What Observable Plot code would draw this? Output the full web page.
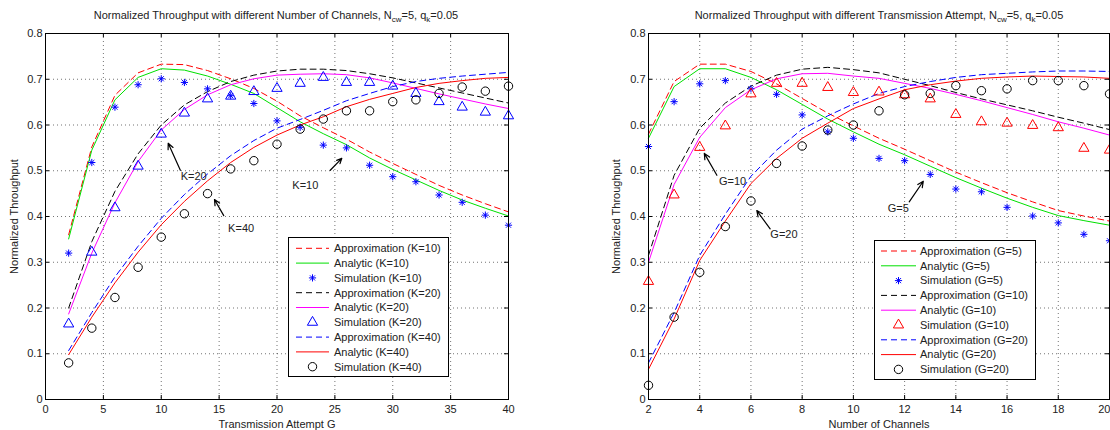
<!DOCTYPE html>
<html><head><meta charset="utf-8">
<script src="https://cdn.jsdelivr.net/npm/d3@7"></script>
<script src="https://cdn.jsdelivr.net/npm/@observablehq/plot@0.6"></script>
<style>
body{margin:0;background:#fff;font-family:"Liberation Sans",Arial,Helvetica,sans-serif;}
#wrap{position:relative;width:1110px;height:430px;overflow:hidden;background:#fff;}
.panel{position:absolute;top:0;}
.title{position:absolute;top:9px;font-size:11px;white-space:nowrap;transform:translateX(-50%);color:#222;line-height:13px;}
.title sub{font-size:8px;vertical-align:-3px;line-height:0;}
.legend{position:absolute;}
</style></head><body><div id="wrap"></div>
<script>
// ---------- DATA ----------
const yTicks = [0, 0.1, 0.2, 0.3, 0.4, 0.5, 0.6, 0.7, 0.8];
const leftXTicks = [0, 5, 10, 15, 20, 25, 30, 35, 40];
const rightXTicks = [2, 4, 6, 8, 10, 12, 14, 16, 18, 20];

// Left chart: x = Transmission Attempt G
const leftG = [2,4,6,8,10,12,14,16,18,20,22,24,26,28,30,32,34,36,38,40];
const appK10 = [0.360,0.552,0.665,0.714,0.733,0.732,0.719,0.701,0.680,0.652,0.620,0.594,0.569,0.541,0.516,0.492,0.468,0.447,0.428,0.410];
const anaK10 = [0.351,0.545,0.655,0.704,0.723,0.720,0.707,0.689,0.669,0.638,0.607,0.581,0.557,0.528,0.503,0.480,0.457,0.436,0.418,0.401];
const simK10 = [0.320,0.518,0.639,0.688,0.701,0.693,0.679,0.664,0.647,0.609,0.595,0.556,0.550,0.512,0.487,0.476,0.447,0.431,0.403,0.381];
const appK20 = [0.200,0.345,0.455,0.537,0.600,0.644,0.673,0.695,0.709,0.718,0.722,0.722,0.719,0.712,0.703,0.692,0.681,0.670,0.659,0.648];
const anaK20 = [0.187,0.320,0.430,0.520,0.589,0.634,0.666,0.688,0.701,0.709,0.711,0.712,0.710,0.703,0.692,0.680,0.668,0.657,0.646,0.636];
const simK20 = [0.165,0.322,0.419,0.510,0.580,0.626,0.657,0.663,0.673,0.680,0.691,0.704,0.693,0.693,0.685,0.669,0.651,0.639,0.628,0.620];
const appK40 = [0.107,0.190,0.268,0.335,0.396,0.448,0.493,0.533,0.566,0.593,0.612,0.632,0.653,0.669,0.684,0.695,0.702,0.707,0.711,0.715];
const anaK40 = [0.098,0.180,0.255,0.322,0.382,0.433,0.478,0.518,0.551,0.578,0.600,0.618,0.640,0.656,0.669,0.682,0.691,0.697,0.702,0.704];
const simK40 = [0.080,0.156,0.223,0.289,0.355,0.406,0.450,0.504,0.522,0.558,0.591,0.613,0.631,0.631,0.651,0.655,0.669,0.683,0.674,0.685];

// Right chart: x = Number of Channels
const rightN = [2,3,4,5,6,7,8,9,10,11,12,13,14,15,16,17,18,19,20];
const appG5  = [0.580,0.695,0.733,0.733,0.717,0.690,0.658,0.626,0.598,0.571,0.547,0.522,0.497,0.474,0.452,0.432,0.413,0.401,0.390];
const anaG5  = [0.571,0.684,0.723,0.723,0.704,0.677,0.645,0.613,0.585,0.558,0.535,0.510,0.485,0.462,0.440,0.420,0.402,0.391,0.381];
const simG5  = [0.553,0.651,0.690,0.697,0.679,0.667,0.622,0.585,0.571,0.527,0.522,0.492,0.460,0.454,0.420,0.401,0.386,0.361,0.347];
const appG10 = [0.315,0.490,0.593,0.648,0.685,0.709,0.722,0.726,0.721,0.714,0.700,0.686,0.671,0.657,0.644,0.631,0.617,0.604,0.590];
const anaG10 = [0.300,0.470,0.573,0.638,0.677,0.701,0.712,0.713,0.707,0.702,0.691,0.680,0.667,0.653,0.638,0.623,0.607,0.593,0.578];
const simG10 = [0.258,0.447,0.551,0.598,0.668,0.691,0.691,0.682,0.671,0.672,0.666,0.657,0.623,0.607,0.604,0.599,0.594,0.549,0.545];
const appG20 = [0.080,0.190,0.315,0.405,0.488,0.545,0.591,0.620,0.646,0.669,0.684,0.695,0.704,0.710,0.713,0.716,0.718,0.718,0.717];
const anaG20 = [0.066,0.176,0.304,0.390,0.472,0.527,0.571,0.604,0.636,0.657,0.677,0.688,0.696,0.702,0.705,0.707,0.706,0.705,0.702];
const simG20 = [0.031,0.180,0.278,0.378,0.434,0.516,0.554,0.589,0.600,0.631,0.666,0.669,0.686,0.675,0.679,0.697,0.697,0.686,0.668];

// Annotations (data coordinates): label, text pos, arrow tail -> head
const leftNotes = [
  {text:"K=20", tx:12.8, ty:0.487, x1:11.65, y1:0.501, x2:10.6, y2:0.560},
  {text:"K=10", tx:22.45, ty:0.467, x1:24.6, y1:0.501, x2:25.6, y2:0.527},
  {text:"K=40", tx:16.9, ty:0.373, x1:15.4, y1:0.402, x2:14.6, y2:0.437}
];
const rightNotes = [
  {text:"G=10", tx:5.28, ty:0.476, x1:4.67, y1:0.490, x2:4.18, y2:0.538},
  {text:"G=5", tx:11.75, ty:0.418, x1:12.18, y1:0.432, x2:12.73, y2:0.477},
  {text:"G=20", tx:7.29, ty:0.361, x1:6.75, y1:0.373, x2:6.23, y2:0.413}
];

// ---------- STYLE ----------
const RED="#ff0000", GREEN="#00e000", BLUE="#0000ff", BLACK="#000000", MAGENTA="#ff00ff";
const asterisk = {draw(ctx, size){ const r=Math.sqrt(size/Math.PI), d=r*Math.SQRT1_2;
  ctx.moveTo(-r,0);ctx.lineTo(r,0);ctx.moveTo(0,-r);ctx.lineTo(0,r);
  ctx.moveTo(-d,-d);ctx.lineTo(d,d);ctx.moveTo(-d,d);ctx.lineTo(d,-d);} };
const SYM = {asterisk:{sym:asterisk, r:3.6}, triangle:{sym:d3.symbolTriangle, r:3.8}, circle:{sym:d3.symbolCircle, r:4.2}};

const leftSeries = [
  {label:"Approximation (K=10)", kind:"line", v:appK10, color:RED, dash:true},
  {label:"Analytic (K=10)", kind:"line", v:anaK10, color:GREEN},
  {label:"Simulation (K=10)", kind:"dot", v:simK10, color:BLUE, sym:"asterisk"},
  {label:"Approximation (K=20)", kind:"line", v:appK20, color:BLACK, dash:true},
  {label:"Analytic (K=20)", kind:"line", v:anaK20, color:MAGENTA},
  {label:"Simulation (K=20)", kind:"dot", v:simK20, color:BLUE, sym:"triangle"},
  {label:"Approximation (K=40)", kind:"line", v:appK40, color:BLUE, dash:true},
  {label:"Analytic (K=40)", kind:"line", v:anaK40, color:RED},
  {label:"Simulation (K=40)", kind:"dot", v:simK40, color:BLACK, sym:"circle"}
];
const rightSeries = [
  {label:"Approximation (G=5)", kind:"line", v:appG5, color:RED, dash:true},
  {label:"Analytic (G=5)", kind:"line", v:anaG5, color:GREEN},
  {label:"Simulation (G=5)", kind:"dot", v:simG5, color:BLUE, sym:"asterisk"},
  {label:"Approximation (G=10)", kind:"line", v:appG10, color:BLACK, dash:true},
  {label:"Analytic (G=10)", kind:"line", v:anaG10, color:MAGENTA},
  {label:"Simulation (G=10)", kind:"dot", v:simG10, color:RED, sym:"triangle"},
  {label:"Approximation (G=20)", kind:"line", v:appG20, color:BLUE, dash:true},
  {label:"Analytic (G=20)", kind:"line", v:anaG20, color:RED},
  {label:"Simulation (G=20)", kind:"dot", v:simG20, color:BLACK, sym:"circle"}
];
const DASH = "6,4";

function makePanel(cfg){
  const innerW = cfg.width - cfg.marginLeft - cfg.marginRight;
  const innerH = cfg.height - cfg.marginTop - cfg.marginBottom;
  const gx = cfg.xTicks.slice(1, -1), gy = yTicks.slice(1, -1);
  const marks = [
    Plot.gridX(gx, {stroke:"#000", strokeOpacity:0.55, strokeDasharray:"1,3"}),
    Plot.gridY(gy, {stroke:"#000", strokeOpacity:0.55, strokeDasharray:"1,3"})
  ];
  for (const s of cfg.series) {
    const data = cfg.xs.map((x,i)=>({x, y:s.v[i]}));
    if (s.kind === "line") {
      marks.push(Plot.line(data, {x:"x", y:"y", stroke:s.color, strokeWidth:1, strokeDasharray: s.dash ? DASH : null}));
    }
  }
  for (const s of cfg.series) {
    const data = cfg.xs.map((x,i)=>({x, y:s.v[i]}));
    if (s.kind === "dot") {
      marks.push(Plot.dot(data, {x:"x", y:"y", symbol:SYM[s.sym].sym, r:SYM[s.sym].r, stroke:s.color, fill:"none", strokeWidth:1}));
    }
  }
  const xLabTicks = cfg.lastEnd ? cfg.xTicks.slice(0, -1) : cfg.xTicks;
  marks.push(
    Plot.arrow(cfg.notes, {x1:"x1", y1:"y1", x2:"x2", y2:"y2", stroke:"black", strokeWidth:1.2, headLength:8, headAngle:50}),
    Plot.text(cfg.notes, {x:"tx", y:"ty", text:"text", fontSize:11, fill:"#222"}),
    // inward ticks on all four sides
    Plot.ruleX(cfg.xTicks, {stroke:"black", insetTop: innerH - 4}),
    Plot.ruleX(cfg.xTicks, {stroke:"black", insetBottom: innerH - 4}),
    Plot.ruleY(yTicks, {stroke:"black", insetRight: innerW - 4}),
    Plot.ruleY(yTicks, {stroke:"black", insetLeft: innerW - 4}),
    Plot.axisX(xLabTicks, {tickSize:0, tickPadding:6, tickFormat:d=>String(d), label:cfg.xLabel, labelAnchor:"center", labelOffset:28, labelArrow:"none", fill:"#222"}),
    Plot.axisY(yTicks, {tickSize:0, tickPadding:3, tickFormat:d=>String(d), label:"Normalized Throughput", labelAnchor:"center", labelOffset:cfg.yLabelOffset, labelArrow:"none", fill:"#222"}),
    Plot.frame({stroke:"black", strokeWidth:1})
  );
  if (cfg.lastEnd) {
    marks.push(Plot.axisX(cfg.xTicks.slice(-1), {tickSize:0, tickPadding:6, tickFormat:d=>String(d), label:null, textAnchor:"end", dx:1, fill:"#222"}));
  }
  return Plot.plot({
    width: cfg.width, height: cfg.height,
    marginLeft: cfg.marginLeft, marginRight: cfg.marginRight,
    marginTop: cfg.marginTop, marginBottom: cfg.marginBottom,
    x: {domain: cfg.xDomain},
    y: {domain: [0, 0.8]},
    style: {fontFamily:'"Liberation Sans", Arial, Helvetica, sans-serif', fontSize:"11px", background:"transparent", overflow:"visible"},
    marks
  });
}

function makeLegend(series, w, h, lx1, lx2, tx, row0, step){
  const svg = d3.create("svg").attr("width", w).attr("height", h)
    .style("font-family",'"Liberation Sans", Arial, Helvetica, sans-serif').style("font-size","11px").style("overflow","visible");
  svg.append("rect").attr("x",0.5).attr("y",0.5).attr("width",w-1).attr("height",h-1).attr("fill","white").attr("stroke","black");
  series.forEach((s,i)=>{
    const y = row0 + i*step;
    if (s.kind === "line") {
      svg.append("line").attr("x1",lx1).attr("x2",lx2).attr("y1",y).attr("y2",y)
        .attr("stroke",s.color).attr("stroke-width",1).attr("stroke-dasharray", s.dash ? DASH : null);
    } else {
      const r = SYM[s.sym].r;
      svg.append("path").attr("transform",`translate(${(lx1+lx2)/2},${y})`)
        .attr("d", d3.symbol(SYM[s.sym].sym, Math.PI*r*r)()).attr("fill","none").attr("stroke",s.color).attr("stroke-width",1);
    }
    svg.append("text").attr("x",tx).attr("y",y).attr("dy","0.35em").attr("fill","#222").text(s.label);
  });
  return svg.node();
}

const wrap = document.getElementById("wrap");
function place(node, left, top, cls){
  const d = document.createElement("div"); d.className = cls; d.style.left = left+"px"; d.style.top = top+"px";
  d.appendChild(node); wrap.appendChild(d); return d;
}

place(makePanel({width:555, height:430, marginLeft:45, marginRight:47, marginTop:33, marginBottom:31,
  xs:leftG, series:leftSeries, xTicks:leftXTicks, xDomain:[0,40], xLabel:"Transmission Attempt G", notes:leftNotes, yLabelOffset:35}), 0, 0, "panel");
place(makePanel({width:555, height:430, marginLeft:93, marginRight:1, marginTop:33, marginBottom:31,
  xs:rightN, series:rightSeries, xTicks:rightXTicks, xDomain:[2,20], xLabel:"Number of Channels", notes:rightNotes, yLabelOffset:36, lastEnd:true}), 555, 0, "panel");

place(makeLegend(leftSeries, 161, 140, 8, 41, 46, 11.3, 14.8), 288, 237, "legend");
place(makeLegend(rightSeries, 162, 140, 7, 42, 46, 11, 14.8), 874, 240, "legend");

function title(html, cx){
  const t = document.createElement("div"); t.className = "title"; t.style.left = cx+"px"; t.innerHTML = html; wrap.appendChild(t);
}
title('Normalized Throughput with different Number of Channels, N<sub>cw</sub>=5, q<sub>k</sub>=0.05', 276);
title('Normalized Throughput with different Transmission Attempt, N<sub>cw</sub>=5, q<sub>k</sub>=0.05', 879);
</script></body></html>
